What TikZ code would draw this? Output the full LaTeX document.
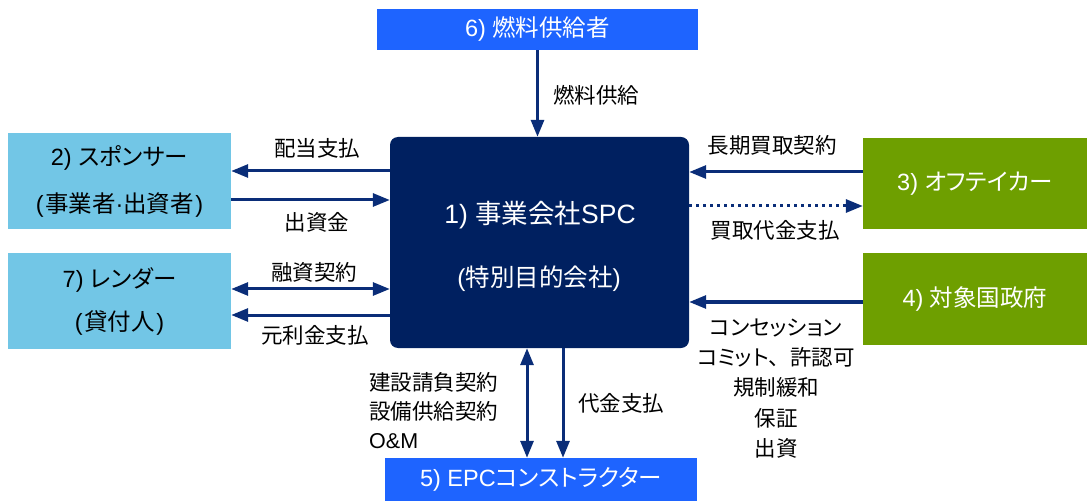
\documentclass[tikz,border=0pt]{standalone}
\usepackage{fontspec}
\setmainfont{Liberation Sans}
\newfontfamily\jp[RawFeature=+palt]{Noto Sans CJK JP}
\newfontfamily\jpf{Noto Sans CJK JP}
\usetikzlibrary{arrows.meta}
\definecolor{navy}{HTML}{002060}
\definecolor{arrcol}{HTML}{0A2D78}
\definecolor{lblue}{HTML}{72C6E6}
\definecolor{gbox}{HTML}{6E9F00}
\definecolor{bbox}{HTML}{1E64FF}
\begin{document}
\begin{tikzpicture}[x=1pt,y=-1pt,
  box/.style={rectangle, inner sep=0pt, align=center},
  lbox/.style={box, fill=lblue, text=black},
  gbx/.style={box, fill=gbox, text=white},
  bbx/.style={box, fill=bbox, text=white},
  tfont/.style={font=\fontsize{23.5}{28}\selectfont},
  lbl/.style={font=\fontsize{21.5}{25}\selectfont, text=black, inner sep=0pt},
  arr/.style={draw=arrcol, line width=3pt, -{Triangle[length=17pt,width=13pt]}},
  darr/.style={draw=arrcol, line width=3pt, {Triangle[length=17pt,width=13pt]}-{Triangle[length=17pt,width=13pt]}}
]
\useasboundingbox (0,0) rectangle (1091,502);

% boxes
\node[bbx, tfont, minimum width=321pt, minimum height=41pt] (fuel) at (537.5,29.5) {6) {\jp 燃料供給者}};
\node[box, fill=navy, text=white, rounded corners=8pt, minimum width=299pt, minimum height=211pt] (spc) at (539.5,242.5) {};
\node[text=white, font=\fontsize{26.5}{30}\selectfont, inner sep=0pt] (spct) at (540,215) {1) {\jp 事業会社}SPC};
\node[text=white, font=\fontsize{24.5}{28}\selectfont, inner sep=0pt] (spcs) at (539,279) {({\jp 特別目的会社})};
\node[lbox, minimum width=223pt, minimum height=96pt] (sp) at (119.5,181) {};
\node[tfont, inner sep=0pt] (spt) at (119.5,158) {2) {\jp スポンサー}};
\node[tfont, inner sep=0pt] (sps) at (119.5,205) {(\kern1.5pt{\jp 事業者}·{\jp 出資者}\kern1.5pt)};
\node[lbox, minimum width=223pt, minimum height=96pt] (ld) at (119.5,301) {};
\node[tfont, inner sep=0pt] (ldt) at (119.5,280) {7) {\jp レンダー}};
\node[tfont, inner sep=0pt] (lds) at (119.5,323) {(\kern1.5pt{\jp 貸付人}\kern1.5pt)};
\node[gbx, tfont, minimum width=224pt, minimum height=91pt] (off) at (975,183.5) {3) {\jp オフテイカー}};
\node[gbx, tfont, minimum width=224pt, minimum height=92pt] (gov) at (975,299) {4) {\jp 対象国政府}};
\node[bbx, tfont, minimum width=312pt, minimum height=43pt] (epc) at (541,479.5) {5) EPC{\jp コンストラクター}};

% anchor coordinates
\coordinate (a1) at ([yshift=10pt]sp.east);
\coordinate (a2) at ([yshift=-19pt]sp.east);
\coordinate (a3) at ([yshift=12pt]ld.east);
\coordinate (a4) at ([yshift=-14pt]ld.east);
\coordinate (b1) at ([yshift=11.5pt]off.west);
\coordinate (b2) at ([yshift=-22.5pt]off.west);
\coordinate (b3) at ([yshift=-3pt]gov.west);
\coordinate (c1) at ([xshift=-14pt]epc.north);
\coordinate (c2) at ([xshift=22pt]epc.north);

% connectors
\draw[arr] (fuel.south) -- (fuel.south |- spc.north);
\draw[arr] (a1 -| spc.west) -- (a1);
\draw[arr] (a2) -- (a2 -| spc.west);
\draw[darr] (a3) -- (a3 -| spc.west);
\draw[arr] (a4 -| spc.west) -- (a4);
\draw[arr] (b1) -- (b1 -| spc.east);
\draw[arr, dash pattern=on 3pt off 4pt] (b2 -| spc.east) -- (b2);
\draw[arr] (b3) -- (b3 -| spc.east);
\draw[darr] (c1 |- spc.south) -- (c1);
\draw[arr] (c2 |- spc.south) -- (c2);

% labels
\node[lbl, anchor=west] (l1) at (553,95) {\jp 燃料供給};
\node[lbl] (l2) at (317,148) {\jp 配当支払};
\node[lbl] (l3) at (317,222) {\jp 出資金};
\node[lbl] (l4) at (314,272) {\jp 融資契約};
\node[lbl] (l5) at (315,335) {\jp 元利金支払};
\node[lbl] (l6) at (772,145) {\jp 長期買取契約};
\node[lbl] (l7) at (775,230) {\jp 買取代金支払};
\node[lbl, align=center, font=\fontsize{21.5}{30.2}\selectfont] (l8) at (776,388.5) {\jp コンセッション\\{\jp コミット}{\jpf 、}{\jp 許認可}\\\jp 規制緩和\\\jp 保証\\\jp 出資};
\node[lbl, align=left, anchor=west, font=\fontsize{21.5}{29}\selectfont] (l9) at (369,411) {\jp 建設請負契約\\\jp 設備供給契約\\O\&M};
\node[lbl] (l10) at (621,403) {\jp 代金支払};
\end{tikzpicture}
\end{document}
